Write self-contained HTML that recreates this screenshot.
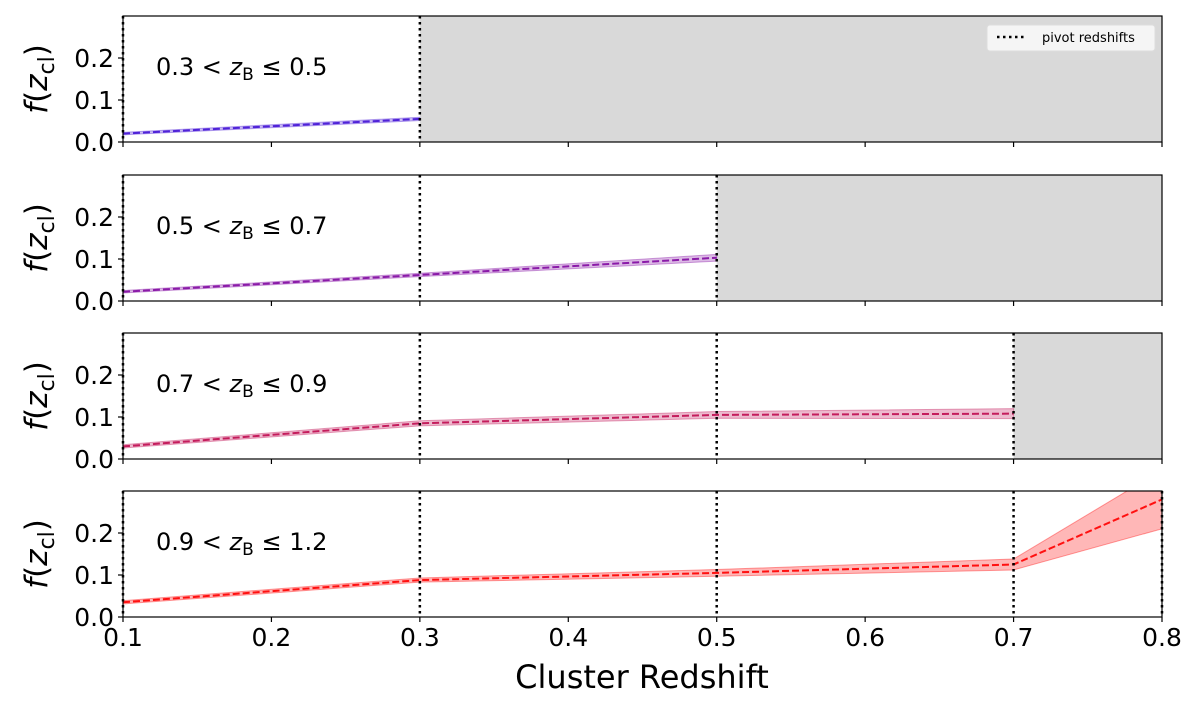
<!DOCTYPE html>
<html><head><meta charset="utf-8"><style>
body{margin:0;background:#fff;}
svg{display:block;font-family:"DejaVu Sans","Liberation Sans",sans-serif;}
</style></head><body>
<svg id="chart" width="1200" height="709" viewBox="0 0 1200 709" xmlns="http://www.w3.org/2000/svg"></svg>
<script>
const pivots = [0.1, 0.3, 0.5, 0.7, 0.8];
const binLabels = ["0.3 < ", "0.5 < ", "0.7 < ", "0.9 < "];
const binUpper = ["0.5", "0.7", "0.9", "1.2"];
const binColors = ["#4f22d8", "#8a1aa8", "#c41c5c", "#ff1010"];
const shadeStart = [0.3, 0.5, 0.7, null];
const xs1 = [0.1, 0.3];
const ys1 = [0.020, 0.055];
const err1 = [0.003, 0.004];
const xs2 = [0.1, 0.3, 0.5];
const ys2 = [0.022, 0.062, 0.103];
const err2 = [0.003, 0.004, 0.008];
const xs3 = [0.1, 0.3, 0.5, 0.7];
const ys3 = [0.030, 0.085, 0.105, 0.108];
const err3 = [0.004, 0.006, 0.008, 0.012];
const xs4 = [0.1, 0.3, 0.5, 0.7, 0.8];
const ys4 = [0.035, 0.088, 0.105, 0.125, 0.280];
const err4 = [0.004, 0.005, 0.008, 0.013, 0.070];
const xTicks = [0.1, 0.2, 0.3, 0.4, 0.5, 0.6, 0.7, 0.8];
const yTicks = [0.0, 0.1, 0.2];

const series = [[xs1, ys1, err1], [xs2, ys2, err2], [xs3, ys3, err3], [xs4, ys4, err4]];
const svg = document.getElementById('chart');
const NS = 'http://www.w3.org/2000/svg';
const L = 123, R = 1162, H = 126, tops = [16, 175, 333, 491];
const X = v => L + (v - 0.1) / 0.7 * (R - L);
function mk(tag, attrs, parent) {
  const e = document.createElementNS(NS, tag);
  for (const k in attrs) e.setAttribute(k, attrs[k]);
  (parent || svg).appendChild(e);
  return e;
}
const defs = mk('defs', {});
tops.forEach((top, i) => {
  const Y = v => top + H - v / 0.3 * H;
  const g = mk('g', {});
  
  
  const cp = mk('clipPath', { id: 'cp' + i }, defs);
  mk('rect', { x: L, y: top, width: R - L, height: H }, cp);
  if (shadeStart[i] !== null) {
    const s = mk('rect', { x: X(shadeStart[i]), y: top, width: R - X(shadeStart[i]), height: H, fill: '#d9d9d9' }, g);
    
    
  }
  const [xs, ys, er] = series[i];
  let up = xs.map((x, j) => X(x) + ',' + Y(ys[j] + er[j]));
  let lo = xs.map((x, j) => X(x) + ',' + Y(ys[j] - er[j])).reverse();
  const band = mk('polygon', { points: up.concat(lo).join(' '), fill: binColors[i], 'fill-opacity': 0.3, stroke: binColors[i], 'stroke-opacity': 0.4, 'clip-path': 'url(#cp' + i + ')' }, g);
  
  
  const ln = mk('polyline', { points: xs.map((x, j) => X(x) + ',' + Y(ys[j])).join(' '), fill: 'none', stroke: binColors[i], 'stroke-width': 2, 'stroke-dasharray': '7,3', 'clip-path': 'url(#cp' + i + ')' }, g);
  
  
  pivots.forEach(p => {
    if (shadeStart[i] !== null && p > shadeStart[i]) return;
    const v = mk('line', { x1: X(p), x2: X(p), y1: top, y2: top + H, stroke: '#000', 'stroke-width': 2.5, 'stroke-dasharray': '2.5,3.5' }, g);
    
    
  });
  const fr = mk('rect', { x: L, y: top, width: R - L, height: H, fill: 'none', stroke: '#000', 'stroke-width': 1.2 }, g);
  
  
  yTicks.forEach(t => {
    mk('line', { x1: L - 5, x2: L, y1: Y(t), y2: Y(t), stroke: '#000', 'stroke-width': 1.2 }, g);
    const tx = mk('text', { x: L - 9, y: Y(t) + 9, 'font-size': 25, 'text-anchor': 'end' }, g);
    tx.textContent = t.toFixed(1);
    
    
  });
  xTicks.forEach(t => {
    mk('line', { x1: X(t), x2: X(t), y1: top + H, y2: top + H + 5, stroke: '#000', 'stroke-width': 1.2 }, g);
    if (i === 3) {
      const tx = mk('text', { x: X(t), y: top + H + 29, 'font-size': 25, 'text-anchor': 'middle' }, g);
      tx.textContent = t.toFixed(1);
      
      
    }
  });
  const yl = mk('text', { x: 0, y: 0, 'font-size': 31, 'text-anchor': 'middle', transform: 'translate(47,' + (top + H / 2) + ') rotate(-90)' }, g);
  yl.innerHTML = '<tspan font-style="italic">f</tspan>(<tspan font-style="italic">z</tspan><tspan font-size="22" dy="7">cl</tspan><tspan dy="-7">)</tspan>';
  
  
  const bl = mk('text', { x: 156, y: top + 59, 'font-size': 24 }, g);
  bl.innerHTML = binLabels[i] + '<tspan font-style="italic">z</tspan><tspan font-size="17" dy="5">B</tspan><tspan dy="-5"> ≤ ' + binUpper[i] + '</tspan>';
  
  
});
const lg = mk('g', {});


mk('rect', { x: 987, y: 25, width: 168, height: 26, rx: 3, fill: '#f5f5f5', stroke: '#ddd' }, lg);
mk('line', { x1: 997, x2: 1025, y1: 37, y2: 37, stroke: '#000', 'stroke-width': 2.5, 'stroke-dasharray': '2.5,3.5' }, lg);
const lt = mk('text', { x: 1042, y: 42, 'font-size': 13 }, lg);
lt.textContent = 'pivot redshifts';


const xt = mk('text', { x: 642, y: 688, 'font-size': 32, 'text-anchor': 'middle' });
xt.textContent = 'Cluster Redshift';


</script>
</body></html>
